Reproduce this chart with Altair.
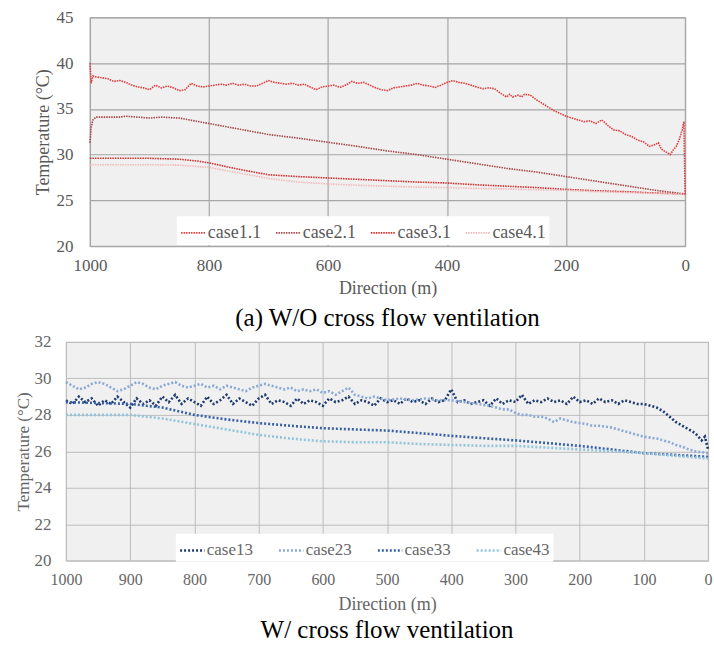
import altair as alt
import pandas as pd

SERIF = "Liberation Serif"

# ---------------- Top panel: W/O cross flow ventilation ----------------
top_names = ["case1.1", "case2.1", "case3.1", "case4.1"]
top_colors = ["#e23b3b", "#a84848", "#d42a2a", "#f3b9b9"]

c11_d = [1000, 998, 995, 990, 980, 970, 960, 950, 940, 930, 920, 910, 900, 890, 880, 870, 860, 850, 840, 830,
         820, 810, 800, 790, 780, 770, 760, 750, 740, 730, 720, 710, 700, 690, 680, 670, 660, 650, 640, 630,
         620, 610, 600, 590, 580, 570, 560, 550, 540, 530, 520, 510, 500, 490, 480, 470, 460, 450, 440, 430,
         420, 410, 400, 390, 380, 370, 360, 350, 340, 330, 320, 310, 300, 295, 290, 280, 275, 270, 260, 250,
         240, 230, 220, 210, 200, 190, 180, 170, 160, 150, 140, 130, 120, 110, 100, 90, 80, 70, 60, 50,
         45, 40, 30, 25, 20, 15, 10, 5, 2, 0]
c11_t = [40.0, 37.8, 38.6, 38.5, 38.4, 38.3, 38.0, 38.1, 37.9, 37.6, 37.4, 37.3, 37.1, 37.6, 37.3, 37.5, 37.3, 37.0, 37.1, 37.8,
         37.5, 37.4, 37.5, 37.6, 37.7, 37.6, 37.8, 37.6, 37.7, 37.5, 37.5, 37.8, 38.1, 37.9, 37.8, 37.7, 37.8, 37.6, 37.7, 37.4,
         37.1, 37.4, 37.5, 37.6, 37.35, 37.6, 38.0, 37.8, 37.9, 37.6, 37.3, 37.1, 37.0, 37.3, 37.4, 37.5, 37.6, 37.8, 37.6, 37.5,
         37.35, 37.6, 37.9, 38.1, 37.9, 37.8, 37.6, 37.4, 37.2, 37.3, 37.2, 36.7, 36.3, 36.6, 36.3, 36.5, 36.3, 36.6, 36.5, 36.0,
         35.6, 35.2, 34.8, 34.5, 34.2, 34.0, 33.8, 33.6, 33.7, 33.4, 33.8, 33.2, 32.7, 32.6, 32.2, 32.0, 31.6, 31.4, 30.9, 31.1,
         31.3, 30.6, 30.2, 30.0, 30.5, 30.9, 31.6, 32.7, 33.6, 25.6]

c21_d = [1000, 998, 995, 990, 950, 940, 900, 880, 850, 800, 750, 700, 650, 600, 550, 500, 450, 400, 350, 300, 250, 200, 150, 100, 50, 0]
c21_t = [31.3, 33.0, 33.8, 34.1, 34.1, 34.2, 34.0, 34.1, 34.0, 33.4, 32.8, 32.2, 31.8, 31.35, 30.9, 30.4, 30.0, 29.5, 29.0, 28.5, 28.1, 27.6, 27.1, 26.6, 26.1, 25.7]

c31_d = [1000, 950, 900, 850, 820, 800, 750, 700, 650, 600, 550, 500, 450, 400, 350, 300, 250, 200, 150, 100, 50, 0]
c31_t = [29.6, 29.6, 29.6, 29.5, 29.3, 29.1, 28.4, 27.8, 27.6, 27.45, 27.3, 27.15, 27.0, 26.9, 26.7, 26.55, 26.4, 26.2, 26.05, 25.95, 25.8, 25.7]

c41_d = [1000, 950, 900, 850, 800, 750, 700, 650, 600, 550, 500, 450, 400, 350, 300, 250, 200, 150, 100, 50, 0]
c41_t = [28.9, 28.9, 28.9, 28.85, 28.6, 28.0, 27.4, 27.0, 26.8, 26.65, 26.55, 26.45, 26.4, 26.3, 26.25, 26.15, 26.1, 25.95, 25.85, 25.75, 25.7]

top_x_ticks = [1000, 800, 600, 400, 200, 0]
top_y_ticks = [20, 25, 30, 35, 40, 45]

# ---------------- Bottom panel: W/ cross flow ventilation ----------------
bot_names = ["case13", "case23", "case33", "case43"]
bot_colors = ["#1f3b6e", "#8aa8d8", "#3660a8", "#92c4dc"]

c13_d = [1000, 990, 980, 970, 960, 950, 940, 930, 920, 910, 900, 890, 880, 870, 860, 850, 840, 830, 820, 810,
         800, 790, 780, 770, 760, 750, 740, 730, 720, 710, 700, 690, 680, 670, 660, 650, 640, 630, 620, 610,
         600, 590, 580, 570, 560, 550, 540, 530, 520, 510, 500, 490, 480, 470, 460, 450, 440, 430, 420, 410,
         400, 390, 380, 370, 360, 350, 340, 330, 320, 310, 300, 290, 280, 270, 260, 250, 240, 230, 220, 210,
         200, 190, 180, 170, 160, 150, 140, 130, 120, 110, 100, 90, 80, 70, 60, 50, 40, 30, 20, 10, 5, 0]
c13_t = [28.8, 28.6, 29.0, 28.7, 28.9, 28.5, 28.8, 28.6, 29.0, 28.7, 28.4, 28.9, 28.6, 28.8, 28.5, 29.0, 28.7, 29.1, 28.6, 28.9,
         28.7, 28.5, 29.0, 28.6, 28.8, 29.1, 28.6, 28.9, 28.7, 28.5, 28.9, 29.1, 28.6, 28.8, 28.7, 28.5, 28.9, 28.6, 28.8, 28.7,
         28.5, 28.9, 28.7, 28.8, 29.0, 28.6, 28.8, 28.7, 28.5, 28.9, 28.7, 28.8, 28.6, 28.9, 28.7, 28.8, 28.6, 28.9, 28.7, 28.8,
         29.4, 28.7, 28.8, 28.6, 28.7, 28.8, 28.5, 28.9, 28.6, 28.8, 28.7, 29.1, 28.6, 28.8, 28.7, 28.9, 28.7, 28.8, 28.6, 29.0,
         28.7, 28.8, 28.6, 28.9, 28.7, 28.8, 28.6, 28.8, 28.7, 28.6, 28.6, 28.5, 28.4, 28.2, 27.9, 27.6, 27.4, 27.2, 27.0, 26.6, 26.8, 26.1]

c23_d = [1000, 990, 980, 970, 960, 950, 940, 930, 920, 910, 900, 890, 880, 870, 860, 850, 840, 830, 820, 810,
         800, 790, 780, 770, 760, 750, 740, 730, 720, 710, 700, 690, 680, 670, 660, 650, 640, 630, 620, 610,
         600, 590, 580, 570, 560, 550, 540, 530, 520, 500, 480, 460, 440, 420, 400, 380, 360, 340, 330, 320,
         310, 300, 290, 280, 270, 260, 250, 240, 230, 220, 210, 200, 190, 180, 170, 160, 150, 140, 130, 120,
         110, 100, 90, 80, 70, 60, 50, 40, 30, 20, 10, 0]
c23_t = [29.8, 29.6, 29.4, 29.5, 29.7, 29.8, 29.7, 29.5, 29.3, 29.4, 29.6, 29.8, 29.7, 29.5, 29.4, 29.6, 29.7, 29.8, 29.6, 29.5,
         29.6, 29.7, 29.5, 29.6, 29.4, 29.6, 29.5, 29.4, 29.3, 29.5, 29.6, 29.7, 29.6, 29.5, 29.4, 29.5, 29.3, 29.4, 29.3, 29.4,
         29.2, 29.3, 29.1, 29.3, 29.5, 29.1, 29.0, 28.9, 29.0, 28.8, 28.9, 28.8, 28.9, 28.8, 28.8, 28.7, 28.6, 28.5, 28.4, 28.3,
         28.3, 28.1, 28.0, 28.0, 27.9, 27.9, 27.8, 27.6, 27.8, 27.7, 27.6, 27.55, 27.5, 27.4, 27.4, 27.35, 27.3, 27.2, 27.1, 27.0,
         26.9, 26.8, 26.75, 26.7, 26.6, 26.5, 26.35, 26.25, 26.1, 26.0, 25.95, 25.9]

c33_d = [1000, 950, 900, 850, 800, 750, 700, 650, 600, 550, 500, 450, 400, 350, 300, 250, 200, 150, 100, 50, 0]
c33_t = [28.7, 28.65, 28.6, 28.4, 28.0, 27.75, 27.55, 27.4, 27.27, 27.2, 27.14, 27.0, 26.85, 26.72, 26.6, 26.45, 26.3, 26.1, 25.9, 25.8, 25.7]

c43_d = [1000, 950, 900, 850, 800, 750, 700, 650, 600, 550, 500, 450, 400, 350, 300, 250, 200, 150, 100, 50, 0]
c43_t = [28.0, 28.0, 28.0, 27.8, 27.5, 27.2, 26.9, 26.7, 26.55, 26.5, 26.5, 26.4, 26.35, 26.3, 26.3, 26.2, 26.1, 26.0, 25.9, 25.75, 25.6]

bot_x_ticks = [1000, 900, 800, 700, 600, 500, 400, 300, 200, 100, 0]
bot_y_ticks = [20, 22, 24, 26, 28, 30, 32]


def long_df(names, ds, ts):
    rows = []
    for n, d, t in zip(names, ds, ts):
        for a, b in zip(d, t):
            rows.append({"series": n, "d": a, "t": b})
    return pd.DataFrame(rows)


top_df = long_df(top_names, [c11_d, c21_d, c31_d, c41_d], [c11_t, c21_t, c31_t, c41_t])
bot_df = long_df(bot_names, [c13_d, c23_d, c33_d, c43_d], [c13_t, c23_t, c33_t, c43_t])

plot_bg = alt.ViewBackground(fill="#f0f0f0", stroke="#a6a6a6", strokeWidth=1.2)
plot_bg2 = alt.ViewBackground(fill="#f0f0f0", stroke="#c4c4c4", strokeWidth=1.2)

top = alt.Chart(top_df).mark_line(strokeDash=[1.5, 1], strokeWidth=1.6).encode(
    x=alt.X("d:Q", scale=alt.Scale(domain=[0, 1000], reverse=True, nice=False),
            axis=alt.Axis(values=top_x_ticks, title="Direction (m)", format="d",
                          labelFont=SERIF, labelFontSize=17, labelColor="#595959",
                          titleFont=SERIF, titleFontSize=18, titleColor="#595959", titleFontWeight="normal",
                          labelPadding=11, titlePadding=6, ticks=False, domain=False, labelFlush=False,
                          gridColor="#a6a6a6", gridWidth=1.2)),
    y=alt.Y("t:Q", scale=alt.Scale(domain=[20, 45], nice=False),
            axis=alt.Axis(values=top_y_ticks, title="Temperature (°C)",
                          labelFont=SERIF, labelFontSize=17, labelColor="#595959",
                          titleFont=SERIF, titleFontSize=18, titleColor="#595959", titleFontWeight="normal",
                          labelPadding=17, titlePadding=4, ticks=False, domain=False, labelFlush=False,
                          gridColor="#a6a6a6", gridWidth=1.2)),
    color=alt.Color("series:N", scale=alt.Scale(domain=top_names, range=top_colors),
                    legend=alt.Legend(orient="none", legendX=87, legendY=199, direction="horizontal",
                                      title=None, fillColor="white", padding=3, columns=4,
                                      symbolType="stroke", symbolSize=600, symbolStrokeWidth=1.6,
                                      symbolDash=[1.5, 1], labelFont=SERIF, labelFontSize=18,
                                      labelColor="#595959", columnPadding=11, labelOffset=1)),
).properties(
    width=596, height=229, view=plot_bg,
    title=alt.TitleParams("(a) W/O cross flow ventilation", orient="bottom", anchor="middle",
                          font=SERIF, fontSize=25, fontWeight="normal", color="#000000", offset=9)
)

bot = alt.Chart(bot_df).mark_line(strokeDash=[2, 2], strokeWidth=2.6).encode(
    x=alt.X("d:Q", scale=alt.Scale(domain=[0, 1000], reverse=True, nice=False),
            axis=alt.Axis(values=bot_x_ticks, title="Direction (m)", format="d",
                          labelFont=SERIF, labelFontSize=16, labelColor="#666666",
                          titleFont=SERIF, titleFontSize=18, titleColor="#666666", titleFontWeight="normal",
                          labelPadding=11, titlePadding=8, ticks=False, domain=False, labelFlush=False,
                          gridColor="#bdbdbd", gridWidth=1)),
    y=alt.Y("t:Q", scale=alt.Scale(domain=[20, 32], nice=False),
            axis=alt.Axis(values=bot_y_ticks, title="Temperature (°C)",
                          labelFont=SERIF, labelFontSize=17, labelColor="#666666",
                          titleFont=SERIF, titleFontSize=17, titleColor="#666666", titleFontWeight="normal",
                          labelPadding=15, titlePadding=2, ticks=False, domain=False, labelFlush=False,
                          gridColor="#bdbdbd", gridWidth=1)),
    color=alt.Color("series:N", scale=alt.Scale(domain=bot_names, range=bot_colors),
                    legend=alt.Legend(orient="none", legendX=110, legendY=192, direction="horizontal",
                                      title=None, fillColor="white", padding=3, columns=4,
                                      symbolType="stroke", symbolSize=600, symbolStrokeWidth=2.4,
                                      symbolDash=[2, 2], labelFont=SERIF, labelFontSize=17,
                                      labelColor="#666666", columnPadding=20, labelOffset=1)),
).properties(
    width=643, height=219, view=plot_bg2,
    title=alt.TitleParams("W/ cross flow ventilation", orient="bottom", anchor="middle",
                          font=SERIF, fontSize=25, fontWeight="normal", color="#000000", offset=4)
)

chart = alt.vconcat(top, bot, spacing=0, center=True).resolve_scale(color="independent").properties(
    padding={"left": 13, "top": 7, "right": 0, "bottom": 0},
    background="white"
)

chart.save("out.html", embed_options={"renderer": "svg", "actions": False})
